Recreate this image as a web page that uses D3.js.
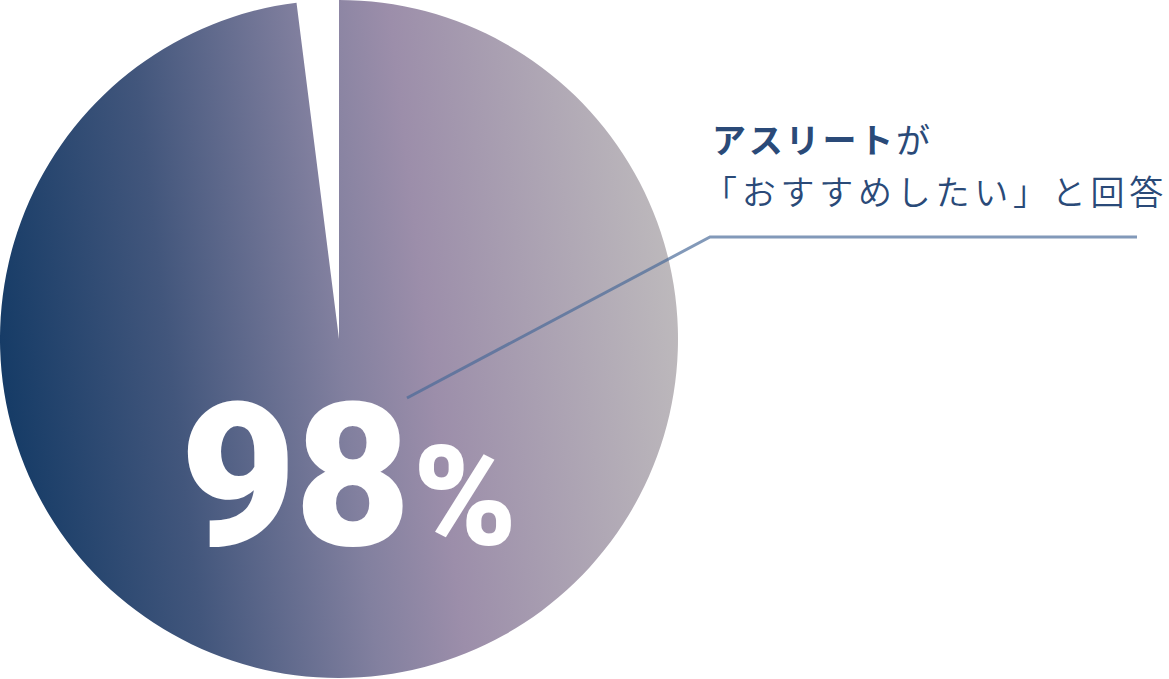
<!DOCTYPE html>
<html>
<head>
<meta charset="utf-8">
<script src="https://cdn.jsdelivr.net/npm/d3@7"></script>
<style>
  html, body { margin: 0; padding: 0; background: #fff; }
  svg { display: block; }
</style>
</head>
<body>
<div id="chart"></div>
<script>
// data
const labels = ["おすすめしたい", "その他"];
const values = [98, 2];
const headline = "98";
const captionBold = "アスリート";
const captionRest = "が";
const captionLine2 = "「おすすめしたい」と回答";

const width = 1169, height = 679;
const cx = 339, cy = 339, radius = 339;

const svg = d3.select("#chart")
    .append("svg")
    .attr("width", width)
    .attr("height", height);

// gradient across the pie, dark navy -> mauve -> light gray
// (coords are in the translated pie group, so centred on 0,0)
const defs = svg.append("defs");
const grad = defs.append("linearGradient")
    .attr("id", "pieGrad")
    .attr("gradientUnits", "userSpaceOnUse")
    .attr("x1", -radius).attr("y1", 40)
    .attr("x2", radius).attr("y2", -40);
[
  [0, "#153b66"],
  [0.25, "#42567c"],
  [0.5, "#82809f"],
  [0.63, "#9c8eaa"],
  [1, "#bdb9bc"]
].forEach(s => grad.append("stop").attr("offset", s[0]).attr("stop-color", s[1]));

const pie = d3.pie().sort(null).value(d => d);
const arc = d3.arc().innerRadius(0).outerRadius(radius);

const g = svg.append("g").attr("transform", `translate(${cx},${cy})`);
g.selectAll("path")
  .data(pie(values))
  .join("path")
    .attr("d", arc)
    .attr("fill", (d, i) => i === 0 ? "url(#pieGrad)" : "none");

// leader line
const leader = [[407, 398], [710, 237], [1137, 237]];
svg.append("path")
    .attr("d", d3.line()(leader))
    .attr("fill", "none")
    .attr("stroke", "#476898")
    .attr("stroke-opacity", 0.68)
    .attr("stroke-width", 3);

// caption
const cap = svg.append("g")
    .attr("font-family", "'Noto Sans CJK JP', 'Noto Sans', sans-serif")
    .attr("fill", "#2a4a78");
const t1 = cap.append("text")
    .attr("x", 712).attr("y", 153)
    .attr("font-size", 34)
    .attr("letter-spacing", 2.8);
t1.append("tspan").attr("font-weight", 700).text(captionBold);
t1.append("tspan").attr("font-weight", 400).text(captionRest);
cap.append("text")
    .attr("x", 703).attr("y", 205)
    .attr("font-size", 34)
    .attr("font-weight", 350)
    .attr("letter-spacing", 4.75)
    .text(captionLine2);

// big percentage
const big = svg.append("text")
    .attr("x", 180).attr("y", 545)
    .attr("font-family", "Roboto, 'Noto Sans', sans-serif")
    .attr("font-weight", 900)
    .attr("fill", "#fff");
big.append("tspan").attr("font-size", 201).attr("letter-spacing", -2).text(headline);
big.append("tspan").attr("font-size", 140).attr("dx", 4).text("%");
</script>
</body>
</html>
